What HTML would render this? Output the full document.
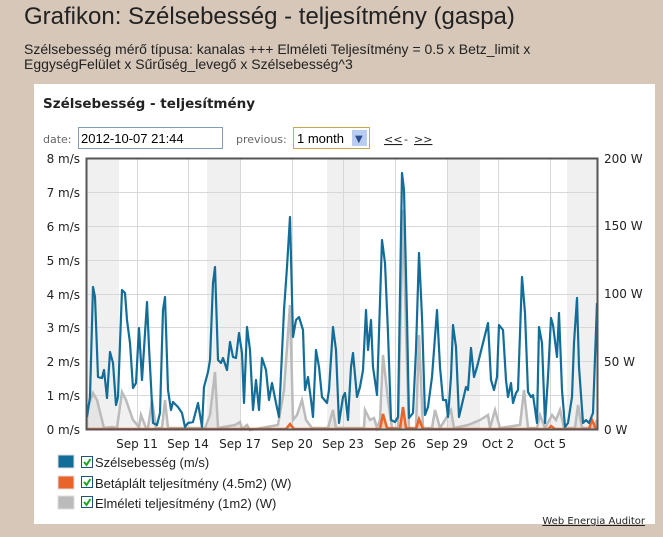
<!DOCTYPE html>
<html><head><meta charset="utf-8"><style>
body{margin:0;width:663px;height:537px;background:#d6c7b9;font-family:"Liberation Sans","DejaVu Sans",sans-serif;overflow:hidden;position:relative}
.t{position:absolute;left:24px;top:3px;font-size:24px;color:#222}
.s{position:absolute;left:24px;top:42px;font-size:14px;line-height:15px;color:#222}
.p{position:absolute;left:34px;top:84px;width:621px;height:440px;background:#fff}
</style></head><body>
<div class="t">Grafikon: Szélsebesség - teljesítmény (gaspa)</div>
<div class="s">Szélsebesség mérő típusa: kanalas +++ Elméleti Teljesítmény = 0.5 x Betz_limit x<br>EggységFelület x Sűrűség_levegő x Szélsebesség^3</div>
<div class="p"></div>
<svg style="position:absolute;left:0;top:0" width="663" height="537" font-family="DejaVu Sans, sans-serif">
<text x="43" y="108" font-size="13.5" font-weight="bold" fill="#222">Szélsebesség - teljesítmény</text>
<text x="43" y="143" font-size="11" fill="#666">date:</text>
<rect x="78.5" y="127.5" width="144" height="21" fill="#fff" stroke="#7f9db9"/>
<text x="81" y="143" font-size="13" font-family="Liberation Sans, sans-serif" fill="#000">2012-10-07 21:44</text>
<text x="236" y="143" font-size="11" fill="#666">previous:</text>
<rect x="293.5" y="127.5" width="76" height="21" fill="#fff" stroke="#c8a94e"/>
<text x="297" y="143" font-size="13" font-family="Liberation Sans, sans-serif">1 month</text>
<rect x="352" y="130" width="15" height="16" fill="#b9cdf1"/>
<text x="355" y="142" font-size="10" fill="#2a4c8e">▼</text>
<text x="384" y="143" font-size="11" fill="#222" text-decoration="underline">&lt;&lt;</text>
<text x="404" y="143" font-size="11" fill="#222">-</text>
<text x="414" y="143" font-size="11" fill="#222" text-decoration="underline">&gt;&gt;</text>
<g fill="#f0f0f0"><rect x="87" y="158" width="32" height="271"/><rect x="207" y="158" width="33" height="271"/><rect x="327" y="158" width="33" height="271"/><rect x="447" y="158" width="33" height="271"/><rect x="567" y="158" width="30" height="271"/></g>
<g stroke="#d8d8d8" stroke-width="1">
<path d="M86 192.5H598M86 226.5H598M86 260.5H598M86 294.5H598M86 327.5H598M86 361.5H598M86 395.5H598"/>
<path d="M137.5 158V429M188.5 158V429M240.5 158V429M292.5 158V429M343.5 158V429M395.5 158V429M447.5 158V429M498.5 158V429M550.5 158V429"/>
</g>
<polyline fill="#bbb" fill-opacity="0.2" stroke="#bbb" stroke-width="2.5" points="87,429 87,410 93,393 97,400 104,428 112,427 117,428 122,392 126,400 133,420 139,427 141,415 146,428 148,428 152,400 156,428 162,428 165,400 168,428 205,428 210,415 215,372 218,428 235,425 240,422 242,429 247,425 250,430 278,425 284,390 290,305 293,420 297,415 302,400 306,420 312,428 328,428 333,410 336,428 364,428 365,410 370,420 374,418 377,428 380,420 383,355 388,400 392,428 398,428 403,210 406,330 409,428 416,428 419,335 423,428 432,428 435,410 440,428 451,410 454,428 468,425 480,420 488,415 490,428 495,410 500,428 520,425 524,390 528,428 537,428 540,415 545,428 552,415 556,420 560,410 564,428 575,428 578,405 582,428 594,428 597,420 597,429"/>
<polyline fill="#f4a47a" fill-opacity="0.5" stroke="#e8642a" stroke-width="2.5" points="87,429 286,429 290,424 294,429 380,429 383,414 387,428 400,429 403,407 406,428 416,429 419,419 423,429 548,429 551,426 555,429 589,429 592,420 596,429"/>
<polyline fill="none" stroke="#136d99" stroke-width="2.2" stroke-linejoin="round" points="87,417 90,397 93,287 95,297 98,377 102,378 104,370 107,398 110,352 113,363 116,405 118,397 122,290 125,293 127,320 130,343 133,388 136,383 139,328 142,380 147,302 149,347 153,423 157,425 160,413 163,310 165,297 168,390 171,410 173,402 178,407 182,413 185,427 188,423 193,422 198,403 202,427 204,387 208,372 210,360 213,283 215,267 218,360 221,363 223,358 227,370 230,342 233,357 236,358 239,333 242,353 244,403 247,327 250,350 253,410 256,380 259,410 262,358 266,370 269,400 272,383 276,403 279,417 284,310 287,267 290,217 293,337 296,320 299,317 303,330 305,390 308,377 311,400 313,417 316,350 319,367 322,397 327,403 329,390 333,327 336,350 339,423 343,397 345,393 348,420 351,367 353,353 357,397 360,387 363,370 366,310 368,350 371,320 373,367 377,395 382,240 385,263 388,333 391,420 395,422 398,417 402,173 404,190 407,317 409,418 413,413 416,350 419,253 422,317 425,415 428,407 432,377 437,310 440,367 443,400 446,400 448,417 451,377 453,325 456,347 459,417 463,400 466,387 468,390 471,348 474,377 477,367 482,347 488,323 491,380 494,390 497,377 499,325 503,330 506,380 508,397 511,383 513,403 516,393 518,390 522,277 525,313 528,392 531,397 533,395 537,423 539,327 542,343 545,423 548,377 551,318 553,325 557,357 559,313 562,390 565,427 568,423 572,397 574,343 577,298 579,367 583,423 586,420 589,423 591,418 593,413 597,303"/>
<rect x="86.5" y="158.5" width="511" height="271" fill="none" stroke="#555" stroke-width="2"/>
<g font-size="12" fill="#222" text-anchor="end">
<text x="80" y="163">8 m/s</text><text x="80" y="197">7 m/s</text><text x="80" y="231">6 m/s</text><text x="80" y="265">5 m/s</text><text x="80" y="299">4 m/s</text><text x="80" y="332">3 m/s</text><text x="80" y="366">2 m/s</text><text x="80" y="400">1 m/s</text><text x="80" y="434">0 m/s</text></g>
<g font-size="12" fill="#222">
<text x="604" y="163">200 W</text><text x="604" y="230">150 W</text><text x="604" y="298">100 W</text><text x="604" y="366">50 W</text><text x="604" y="434">0 W</text></g>
<g font-size="12" fill="#222" text-anchor="middle">
<text x="137" y="448">Sep 11</text><text x="188" y="448">Sep 14</text><text x="240" y="448">Sep 17</text><text x="292" y="448">Sep 20</text><text x="343" y="448">Sep 23</text><text x="395" y="448">Sep 26</text><text x="447" y="448">Sep 29</text><text x="498" y="448">Oct 2</text><text x="550" y="448">Oct 5</text></g>
<g>
<rect x="58" y="455" width="16" height="13" fill="#136d99" stroke="#ddd"/>
<rect x="58" y="476" width="16" height="13" fill="#e8642a" stroke="#ddd"/>
<rect x="58" y="496" width="16" height="13" fill="#bbb" stroke="#ddd"/>
<g fill="#fff" stroke="#1c5180"><rect x="81.5" y="456.5" width="11" height="11"/><rect x="81.5" y="476.5" width="11" height="11"/><rect x="81.5" y="496.5" width="11" height="11"/></g>
<g stroke="#21a121" stroke-width="2" fill="none"><path d="M84 462l2.5 3 4-6"/><path d="M84 482l2.5 3 4-6"/><path d="M84 502l2.5 3 4-6"/></g>
<g font-size="13" font-family="Liberation Sans, sans-serif" fill="#222">
<text x="95" y="467">Szélsebesség (m/s)</text>
<text x="95" y="488">Betáplált teljesítmény (4.5m2) (W)</text>
<text x="95" y="508">Elméleti teljesítmény (1m2) (W)</text></g>
</g>
<text x="645" y="524" font-size="10" fill="#222" text-anchor="end" text-decoration="underline">Web Energia Auditor</text>
</svg>
</body></html>
